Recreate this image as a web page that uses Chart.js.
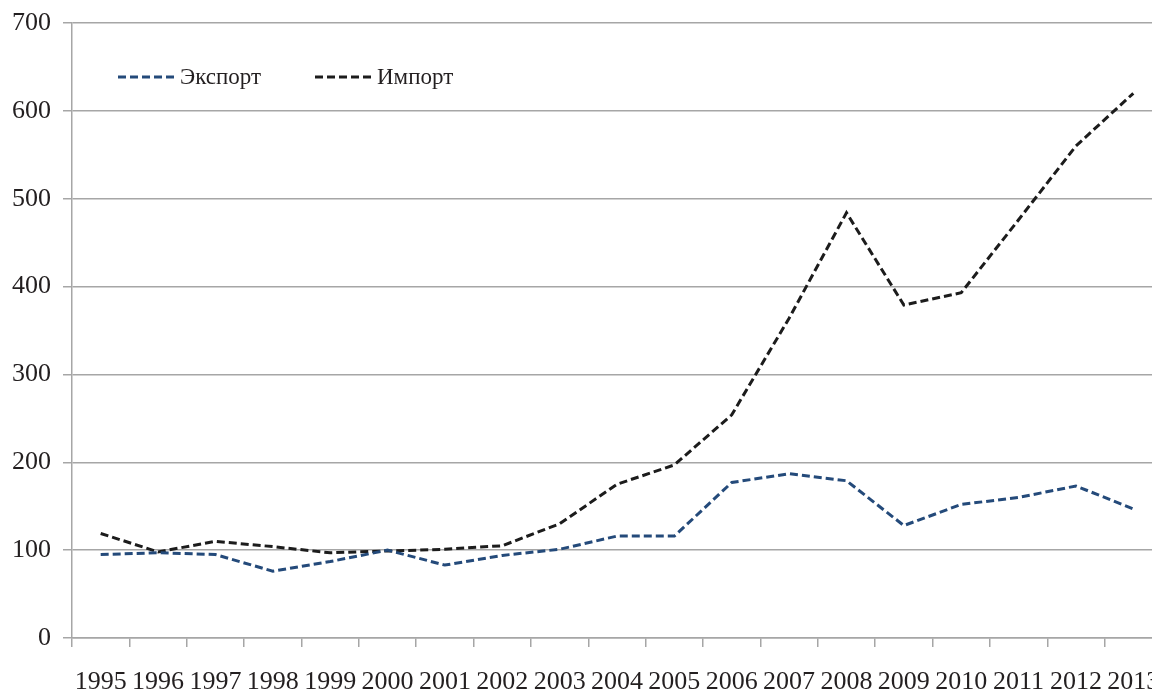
<!DOCTYPE html>
<html>
<head>
<meta charset="utf-8">
<script src="https://cdn.jsdelivr.net/npm/chart.js@4"></script>
<style>
  html, body { margin: 0; padding: 0; background: #fff; overflow: hidden; width: 1152px; height: 689px; }
  #chart { position: absolute; left: 0; top: 0; }
  #legend { position: absolute; top: 64px; left: 0; font-family: "Liberation Serif", serif; font-size: 23px; color: #231f20; }
  .item { position: absolute; display: flex; align-items: center; white-space: nowrap; }
  .item svg { margin-right: 6px; }
</style>
</head>
<body>
<canvas id="chart" width="1162" height="689"></canvas>
<div id="legend"></div>
<script>
// годы
const years = ['1995','1996','1997','1998','1999','2000','2001','2002','2003','2004','2005','2006','2007','2008','2009','2010','2011','2012','2013'];
// Экспорт
const exportVals = [95, 97, 95, 76, 87, 100, 83, 94, 101, 116, 116, 177, 187, 179, 128, 152, 160, 173, 147];
// Импорт
const importVals = [119, 98, 110, 104, 97, 99, 101, 105, 130, 175, 197, 254, 364, 484, 379, 393, 476, 560, 620];
const yTicks = [0, 100, 200, 300, 400, 500, 600, 700];

const seriesNames = ['Экспорт', 'Импорт'];
const seriesColors = ['#244a7a', '#1c1c1c'];
const legendLeft = [118, 315];

const font = { family: 'Liberation Serif', size: 26 };
const gridCol = '#a6a6a6';

const ctx = document.getElementById('chart');
new Chart(ctx, {
  type: 'line',
  data: {
    labels: years,
    datasets: [
      { label: seriesNames[0], data: exportVals, borderColor: seriesColors[0], borderWidth: 3, borderDash: [8, 4], pointRadius: 0, tension: 0, fill: false },
      { label: seriesNames[1], data: importVals, borderColor: seriesColors[1], borderWidth: 3, borderDash: [8, 4], pointRadius: 0, tension: 0, fill: false },
    ]
  },
  options: {
    responsive: false,
    animation: false,
    layout: { padding: { top: 23, right: 0, bottom: 0, left: 0 } },
    plugins: { legend: { display: false }, tooltip: { enabled: false } },
    scales: {
      x: {
        offset: true,
        grid: { offset: true, drawOnChartArea: false, color: gridCol, lineWidth: 1.5, tickLength: 9 },
        border: { color: gridCol, width: 1.5 },
        ticks: { font: font, color: '#231f20', padding: 20, maxRotation: 0, autoSkip: false },
        afterFit: s => { s.height = 51; s.paddingLeft = 0; s.paddingRight = 0; }
      },
      y: {
        min: 0, max: 700,
        afterBuildTicks: s => { s.ticks = yTicks.map(v => ({ value: v })); },
        grid: { color: gridCol, lineWidth: 1.5, tickLength: 9 },
        border: { color: gridCol, width: 1.5 },
        ticks: { font: font, color: '#231f20', padding: 12 },
        afterFit: s => { s.width = 72; s.paddingTop = 0; s.paddingBottom = 0; }
      }
    }
  }
});

// легенда внутри области графика
const legend = document.getElementById('legend');
seriesNames.forEach((name, i) => {
  const el = document.createElement('div');
  el.className = 'item';
  el.style.left = legendLeft[i] + 'px';
  el.innerHTML = `<svg width="56" height="6"><line x1="0" y1="3" x2="56" y2="3" stroke="${seriesColors[i]}" stroke-width="3" stroke-dasharray="8 4"/></svg><span>${name}</span>`;
  legend.appendChild(el);
});
</script>
</body>
</html>
